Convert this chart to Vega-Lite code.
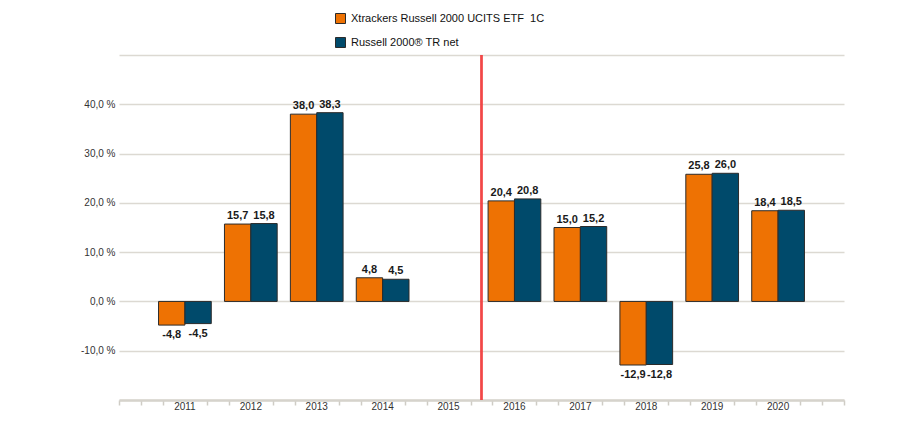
{
  "$schema": "https://vega.github.io/schema/vega-lite/v6.json",
  "width": 725,
  "height": 345,
  "autosize": "none",
  "padding": {"left": 119, "top": 55, "right": 59, "bottom": 30},
  "background": "white",
  "config": {
    "locale": {"number": {"decimal": ",", "thousands": ".", "grouping": [3], "currency": ["", " €"], "minus": "-"}},
    "view": {"stroke": null},
    "font": "Liberation Sans"
  },
  "data": {
    "values": [
      {"year": "2011", "series": "Xtrackers Russell 2000 UCITS ETF \u00a01C", "value": -4.8},
      {"year": "2011", "series": "Russell 2000® TR net", "value": -4.5},
      {"year": "2012", "series": "Xtrackers Russell 2000 UCITS ETF \u00a01C", "value": 15.7},
      {"year": "2012", "series": "Russell 2000® TR net", "value": 15.8},
      {"year": "2013", "series": "Xtrackers Russell 2000 UCITS ETF \u00a01C", "value": 38.0},
      {"year": "2013", "series": "Russell 2000® TR net", "value": 38.3},
      {"year": "2014", "series": "Xtrackers Russell 2000 UCITS ETF \u00a01C", "value": 4.8},
      {"year": "2014", "series": "Russell 2000® TR net", "value": 4.5},
      {"year": "2016", "series": "Xtrackers Russell 2000 UCITS ETF \u00a01C", "value": 20.4},
      {"year": "2016", "series": "Russell 2000® TR net", "value": 20.8},
      {"year": "2017", "series": "Xtrackers Russell 2000 UCITS ETF \u00a01C", "value": 15.0},
      {"year": "2017", "series": "Russell 2000® TR net", "value": 15.2},
      {"year": "2018", "series": "Xtrackers Russell 2000 UCITS ETF \u00a01C", "value": -12.9},
      {"year": "2018", "series": "Russell 2000® TR net", "value": -12.8},
      {"year": "2019", "series": "Xtrackers Russell 2000 UCITS ETF \u00a01C", "value": 25.8},
      {"year": "2019", "series": "Russell 2000® TR net", "value": 26.0},
      {"year": "2020", "series": "Xtrackers Russell 2000 UCITS ETF \u00a01C", "value": 18.4},
      {"year": "2020", "series": "Russell 2000® TR net", "value": 18.5}
    ]
  },
  "resolve": {"scale": {"x": "independent"}, "axis": {"x": "independent"}},
  "layer": [
    {
      "layer": [
        {
          "mark": {"type": "bar", "stroke": "#2b2b2b", "strokeWidth": 1},
          "encoding": {
            "y": {"field": "value", "type": "quantitative"},
            "color": {
              "field": "series",
              "type": "nominal",
              "scale": {
                "domain": ["Xtrackers Russell 2000 UCITS ETF \u00a01C", "Russell 2000® TR net"],
                "range": ["#ee7203", "#004a6b"]
              },
              "legend": {
                "title": null,
                "orient": "none",
                "legendX": 216,
                "legendY": -42,
                "direction": "vertical",
                "symbolType": "square",
                "symbolSize": 100,
                "symbolStrokeColor": "#2b2b2b",
                "symbolStrokeWidth": 1,
                "labelFontSize": 11,
                "labelColor": "#111111",
                "labelFont": "Liberation Sans",
                "labelLimit": 0,
                "rowPadding": 9,
                "labelOffset": 5
              }
            }
          }
        },
        {
          "transform": [{"filter": "datum.value >= 0"}],
          "mark": {"type": "text", "baseline": "bottom", "dy": -3, "fontSize": 11, "fontWeight": "bold", "color": "#1a1a1a"},
          "encoding": {
            "y": {"field": "value", "type": "quantitative"},
            "text": {"field": "value", "type": "quantitative", "format": ".1f"}
          }
        },
        {
          "transform": [{"filter": "datum.value < 0"}],
          "mark": {"type": "text", "baseline": "top", "dy": 4, "fontSize": 11, "fontWeight": "bold", "color": "#1a1a1a"},
          "encoding": {
            "y": {"field": "value", "type": "quantitative"},
            "text": {"field": "value", "type": "quantitative", "format": ".1f"}
          }
        }
      ],
      "encoding": {
        "x": {
          "field": "year",
          "type": "ordinal",
          "scale": {
            "domain": ["2011", "2012", "2013", "2014", "2015", "2016", "2017", "2018", "2019", "2020"],
            "paddingInner": 0,
            "paddingOuter": 0.5
          },
          "axis": {
            "orient": "bottom",
            "title": null,
            "ticks": false,
            "domain": false,
            "labelAngle": 0,
            "labelFontSize": 10,
            "labelColor": "#333333",
            "labelPadding": 1
          }
        },
        "xOffset": {
          "field": "series",
          "type": "nominal",
          "scale": {
            "domain": ["Xtrackers Russell 2000 UCITS ETF \u00a01C", "Russell 2000® TR net"],
            "paddingInner": 0,
            "paddingOuter": 0.25
          }
        },
        "y": {
          "scale": {"domain": [-20, 50], "nice": false, "zero": false},
          "axis": {
            "title": null,
            "values": [-20, -10, 0, 10, 20, 30, 40, 50],
            "labelExpr": "datum.value <= -20 || datum.value >= 50 ? '' : format(datum.value, '.1f') + ' %'",
            "domain": false,
            "ticks": false,
            "gridColor": "#dcd9d2",
            "gridWidth": 1.5,
            "labelFontSize": 10,
            "labelColor": "#333333",
            "labelPadding": 4
          }
        }
      }
    },
    {
      "mark": {"type": "rule", "stroke": "#f04848", "color": "#f04848", "strokeWidth": 1.2},
      "encoding": {
        "x": {
          "datum": 2015.5,
          "type": "quantitative",
          "scale": {"domain": [2010, 2021], "nice": false, "zero": false},
          "axis": {
            "orient": "bottom",
            "title": null,
            "labels": false,
            "grid": false,
            "values": [2010, 2010.3333, 2010.6667, 2011.3333, 2011.6667, 2012.3333, 2012.6667, 2013.3333, 2013.6667, 2014.3333, 2014.6667, 2015.3333, 2015.6667, 2016.3333, 2016.6667, 2017.3333, 2017.6667, 2018.3333, 2018.6667, 2019.3333, 2019.6667, 2020.3333, 2020.6667, 2021],
            "domainColor": "#d6d3cc",
            "domainWidth": 2.5,
            "tickColor": "#cfccc5",
            "tickWidth": 1.5,
            "tickSize": 5
          }
        }
      }
    }
  ]
}
